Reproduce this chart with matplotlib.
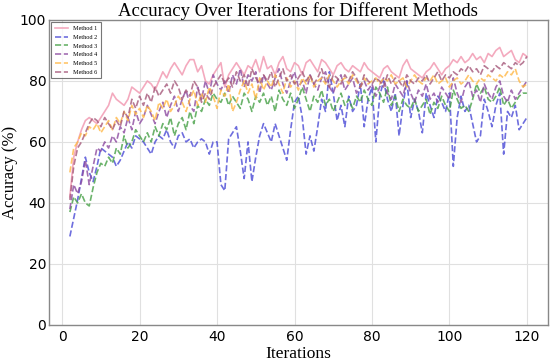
"""
    Accuracy over iterations, six methods
"""

import matplotlib
matplotlib.use('Agg')
import matplotlib.pyplot as plt

iterations = list(range(2, 121))

method1 = [42, 55, 60, 64, 67, 68, 67, 66, 68, 70,
           72, 76, 74, 73, 72, 74, 78, 77, 76, 78,
           80, 79, 77, 80, 83, 81, 84, 86, 84, 82,
           85, 87, 87, 83, 85, 80, 79, 82, 84, 86,
           78, 82, 84, 86, 84, 82, 85, 84, 87, 83,
           88, 84, 85, 82, 86, 88, 84, 83, 86, 85,
           82, 86, 87, 85, 83, 87, 86, 84, 82, 85,
           86, 84, 83, 85, 84, 83, 86, 84, 83, 82,
           81, 84, 85, 83, 82, 81, 85, 87, 84, 83,
           82, 81, 83, 84, 86, 84, 82, 84, 85, 87,
           86, 88, 86, 87, 89, 87, 88, 86, 89, 88,
           90, 91, 88, 89, 90, 87, 86, 89, 88]
method2 = [29, 35, 41, 48, 55, 50, 47, 52, 58, 57,
           56, 55, 52, 54, 57, 60, 58, 62, 61, 60,
           58, 56, 60, 62, 61, 64, 60, 58, 62, 63,
           60, 61, 58, 60, 61, 60, 56, 60, 60, 46,
           44, 61, 63, 65, 57, 48, 60, 47, 55, 62,
           66, 63, 60, 66, 62, 58, 54, 64, 73, 75,
           68, 56, 62, 57, 65, 74, 70, 83, 76, 67,
           72, 65, 75, 70, 72, 79, 65, 74, 78, 60,
           75, 80, 74, 70, 76, 62, 72, 80, 68, 74,
           70, 63, 76, 72, 68, 75, 73, 70, 76, 52,
           68, 75, 70, 72, 66, 60, 62, 74, 70, 65,
           72, 76, 56, 70, 68, 72, 64, 66, 68]
method3 = [37, 42, 40, 43, 40, 39, 45, 50, 53, 52,
           55, 53, 58, 56, 62, 58, 60, 64, 62, 60,
           63, 60, 65, 62, 66, 64, 68, 62, 66, 68,
           64, 70, 66, 72, 70, 74, 72, 76, 74, 73,
           76, 72, 75, 73, 71, 76, 74, 70, 75, 73,
           76, 72, 75, 70, 77, 74, 72, 76, 71, 74,
           78, 74, 70, 75, 73, 77, 72, 74, 70, 73,
           76, 72, 74, 71, 75, 73, 77, 74, 72, 78,
           76, 73, 78, 72, 75, 70, 74, 72, 71, 74,
           70, 72, 74, 69, 73, 71, 75, 72, 70, 77,
           74, 71, 72, 70, 74, 79, 76, 78, 74, 73,
           75, 78, 72, 74, 71, 73, 75, 76, 76]
method4 = [38, 46, 43, 47, 54, 46, 52, 58, 57, 60,
           58, 62, 60, 65, 63, 68, 64, 70, 66, 68,
           72, 69, 66, 70, 73, 68, 72, 75, 70, 74,
           77, 72, 70, 78, 74, 80, 76, 82, 79, 77,
           80, 76, 82, 79, 84, 78, 82, 80, 83, 76,
           82, 79, 77, 81, 84, 79, 76, 80, 83, 78,
           80, 76, 82, 79, 77, 81, 83, 78, 76, 80,
           82, 77, 79, 81, 76, 78, 80, 77, 79, 75,
           78, 81, 76, 74, 79, 77, 75, 80, 76, 73,
           77, 75, 79, 74, 76, 73, 78, 76, 74, 81,
           76, 73, 78, 80, 75, 77, 73, 79, 76, 74,
           78, 80, 75, 73, 77, 74, 76, 78, 80]
method5 = [50, 58, 60, 63, 62, 65, 64, 66, 63, 65,
           67, 64, 68, 66, 70, 67, 72, 69, 71, 68,
           72, 70, 67, 73, 71, 74, 70, 72, 75, 73,
           70, 74, 77, 72, 76, 73, 78, 75, 71, 77,
           75, 79, 70, 73, 77, 80, 76, 79, 74, 81,
           77, 80, 78, 82, 79, 76, 81, 78, 80, 77,
           81, 79, 82, 78, 80, 81, 79, 82, 80, 78,
           80, 81, 79, 82, 80, 78, 81, 79, 80, 81,
           79, 81, 80, 82, 79, 80, 81, 78, 80, 82,
           80, 79, 81, 80, 82, 79, 80, 81, 78, 80,
           81, 79, 80, 82, 80, 79, 81, 80, 82, 81,
           80, 82, 81, 83, 82, 84, 80, 78, 79]
method6 = [41, 52, 58, 60, 63, 66, 68, 67, 65, 68,
           66, 64, 67, 65, 70, 68, 74, 71, 75, 72,
           76, 73, 78, 75, 77, 79, 76, 80, 78, 74,
           77, 75, 80, 78, 73, 76, 74, 78, 80, 82,
           79, 81, 78, 83, 80, 82, 78, 84, 81, 79,
           82, 80, 83, 78, 81, 84, 80, 82, 79, 81,
           83, 80, 82, 79, 81, 84, 80, 78, 82, 81,
           79, 82, 80, 83, 81, 78, 82, 80, 79, 81,
           80, 78, 82, 79, 81, 80, 78, 82, 80, 79,
           81, 80, 82, 79, 81, 83, 80, 82, 81, 83,
           82, 84, 83, 85, 83, 84, 82, 85, 84, 83,
           85, 84, 86, 85, 84, 86, 85, 86, 88]

series = [method1, method2, method3, method4, method5, method6]
labels = ['Method 1', 'Method 2', 'Method 3', 'Method 4', 'Method 5', 'Method 6']
colors = ['#f29bb3', '#4a4ad6', '#46a046', '#8c4aa0', '#ffb846', '#a5587a']
styles = ['-', '--', '--', '--', '--', '--']

fig = plt.figure(figsize=(5.5, 3.63), dpi=100)
ax = fig.add_axes([0.089, 0.105, 0.907, 0.84])

for ys, lab, c, ls in zip(series, labels, colors, styles):
    ax.plot(iterations, ys, linestyle=ls, color=c, label=lab, linewidth=1.2,
            alpha=0.85 if ls == '-' else 0.8)

ax.set_ylim(0, 100)
ax.set_xlim(-3.4, 125.4)
ax.set_xticks(range(0, 121, 20))
ax.set_yticks(range(0, 101, 20))
ax.tick_params(axis='both', labelsize=10, length=0)
ax.tick_params(axis='y', pad=2)
ax.tick_params(axis='x', pad=4)
ax.grid(True, color='#e0e0e0', linewidth=0.8)
for sp in ax.spines.values():
    sp.set_color('#888888')
    sp.set_linewidth(1.0)

ax.set_title('Accuracy Over Iterations for Different Methods',
             family='Liberation Serif', fontsize=13.5, pad=2)
ax.set_xlabel('Iterations', family='Liberation Serif', fontsize=12.5, labelpad=1)
ax.set_ylabel('Accuracy (%)', family='Liberation Serif', fontsize=12, labelpad=1)

leg = ax.legend(loc='upper left', prop={'family': 'Liberation Serif', 'size': 4.5},
                frameon=True, fancybox=False, edgecolor='#555555',
                handlelength=2.2, labelspacing=0.55, borderpad=0.5,
                borderaxespad=0.4)
leg.get_frame().set_linewidth(0.8)

fig.savefig('out.png', dpi=100)
